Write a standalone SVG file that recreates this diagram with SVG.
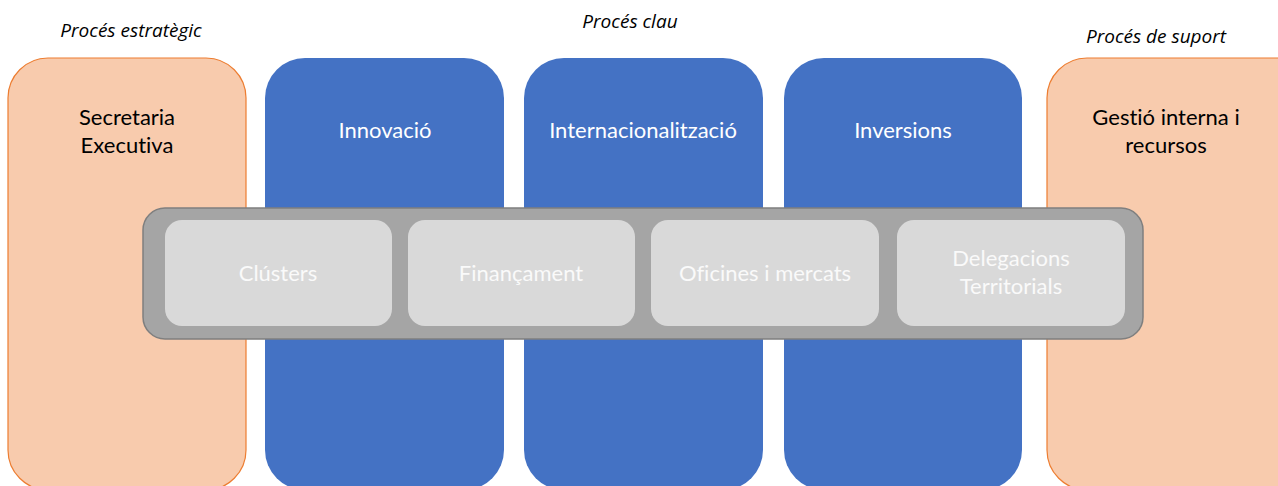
<svg xmlns="http://www.w3.org/2000/svg" width="1278" height="486" viewBox="0 0 1278 486">
<style>
text{font-variant-ligatures:none}
.orange{fill:#F8CBAD;stroke:#ED7D31;stroke-width:1.2}
.blue{fill:#4472C4}
.band{fill:#A5A5A5;stroke:#7F7F7F;stroke-width:1.5}
.inner{fill:#D9D9D9}
.hdr{font-family:"Open Sans",Lato,sans-serif;font-style:italic;font-size:19px;fill:#000;text-anchor:middle}
.dark{font-family:Lato,"Open Sans",sans-serif;font-size:22px;fill:#000;text-anchor:middle}
.white{font-family:Lato,"Open Sans",sans-serif;font-size:22px;fill:#fff;text-anchor:middle}
.light{font-family:Lato,"Open Sans",sans-serif;font-size:22px;fill:#FAFAFA;text-anchor:middle}
</style>
<rect width="1278" height="486" fill="#fff"/>
<g id="labels">
<text class="hdr" x="131" y="37">Procés estratègic</text>
<text class="hdr" x="630" y="28">Procés clau</text>
<text class="hdr" x="1156" y="43">Procés de suport</text>
</g>
<g id="secretaria">
<rect class="orange" x="8" y="58" width="238" height="432" rx="40"/>
<text class="dark" x="127" y="125">Secretaria</text>
<text class="dark" x="127" y="153">Executiva</text>
</g>
<g id="innovacio">
<rect class="blue" x="265" y="58" width="239" height="432" rx="40"/>
<text class="white" x="385" y="138">Innovació</text>
</g>
<g id="internacionalitzacio">
<rect class="blue" x="524" y="58" width="239" height="432" rx="40"/>
<text class="white" x="643" y="138">Internacionalització</text>
</g>
<g id="inversions">
<rect class="blue" x="784" y="58" width="238" height="432" rx="40"/>
<text class="white" x="903" y="138">Inversions</text>
</g>
<g id="gestio">
<rect class="orange" x="1047" y="58" width="270" height="432" rx="40"/>
<text class="dark" x="1166" y="125">Gestió interna i</text>
<text class="dark" x="1166" y="153">recursos</text>
</g>
<g id="band">
<rect class="band" x="143" y="208" width="1000" height="131" rx="22"/>
</g>
<g id="clusters">
<rect class="inner" x="165" y="220" width="227" height="106" rx="17"/>
<text class="light" x="278" y="281">Clústers</text>
</g>
<g id="financament">
<rect class="inner" x="408" y="220" width="227" height="106" rx="17"/>
<text class="light" x="521" y="281">Finançament</text>
</g>
<g id="oficines">
<rect class="inner" x="651" y="220" width="228" height="106" rx="17"/>
<text class="light" x="765" y="281">Oficines i mercats</text>
</g>
<g id="delegacions">
<rect class="inner" x="897" y="220" width="228" height="106" rx="17"/>
<text class="light" x="1011" y="266">Delegacions</text>
<text class="light" x="1011" y="294">Territorials</text>
</g>
<g id="connectors"/>
</svg>
